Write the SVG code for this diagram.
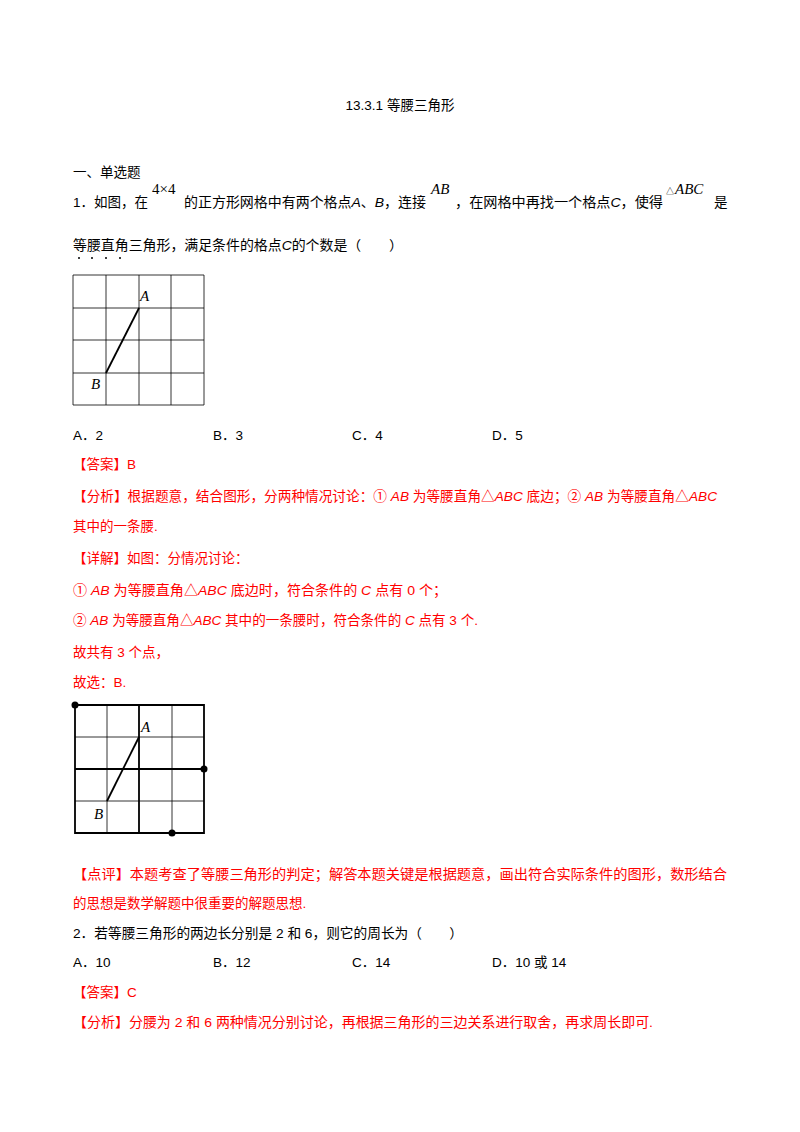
<svg xmlns="http://www.w3.org/2000/svg" width="800" height="1132" viewBox="0 0 800 1132">
<style>
text{font-family:"Liberation Sans","Noto Sans CJK SC",sans-serif;font-size:13.5px;fill:#000}
.r{fill:#ff0000}
.m{font-family:"Liberation Serif",serif;font-style:italic;font-size:15px}
.i{font-style:italic}
.g{stroke:#000;stroke-width:0.8;fill:none}
.k{stroke:#000;stroke-width:1.8;fill:none}
</style>
<rect width="800" height="1132" fill="#fff"/>
<text x="400" y="110" text-anchor="middle">13.3.1 等腰三角形</text>
<text x="73" y="177">一、单选题</text>
<text x="73" y="207">1．如图，在</text>
<text x="152" y="194" style="font-family:'Liberation Serif',serif;font-size:15px">4×4</text>
<text x="184" y="207" textLength="242" lengthAdjust="spacingAndGlyphs">的正方形网格中有两个格点<tspan class="i">A</tspan>、<tspan class="i">B</tspan>，连接</text>
<text x="431" y="194" class="m">AB</text>
<text x="455" y="207" textLength="208" lengthAdjust="spacingAndGlyphs">，在网格中再找一个格点<tspan class="i">C</tspan>，使得</text>
<text x="666" y="194" style="font-size:8px">△</text><text x="675" y="194" class="m">ABC</text>
<text x="714" y="207">是</text>
<text x="73" y="250" textLength="330" lengthAdjust="spacingAndGlyphs">等腰直角三角形，满足条件的格点<tspan class="i">C</tspan>的个数是（　　）</text>
<g fill="#000"><circle cx="79" cy="258" r="1"/><circle cx="92" cy="258" r="1"/><circle cx="106" cy="258" r="1"/><circle cx="120" cy="258" r="1"/></g>
<g id="grid1">
<path class="g" d="M73 275H204M73 308H204M73 340H204M73 373H204M73 405H204M73 275V405M106 275V405M139 275V405M171 275V405M204 275V405"/>
<path class="k" d="M139 308L106 373" stroke-width="1.4"/>
<text x="140" y="301" class="m">A</text>
<text x="91" y="389" class="m">B</text>
</g>
<text x="73" y="440">A．2</text><text x="213" y="440">B．3</text><text x="352" y="440">C．4</text><text x="492" y="440">D．5</text>
<text x="73" y="469" class="r">【答案】B</text>
<text x="73" y="501" class="r" textLength="644" lengthAdjust="spacingAndGlyphs">【分析】根据题意，结合图形，分两种情况讨论：① <tspan class="i">AB</tspan> 为等腰直角△<tspan class="i">ABC</tspan> 底边；② <tspan class="i">AB</tspan> 为等腰直角△<tspan class="i">ABC</tspan></text>
<text x="73" y="531" class="r">其中的一条腰.</text>
<text x="73" y="563" class="r">【详解】如图：分情况讨论：</text>
<text x="73" y="595" class="r" textLength="374" lengthAdjust="spacingAndGlyphs">① <tspan class="i">AB</tspan> 为等腰直角△<tspan class="i">ABC</tspan> 底边时，符合条件的 <tspan class="i">C</tspan> 点有 0 个；</text>
<text x="73" y="625" class="r" textLength="405" lengthAdjust="spacingAndGlyphs">② <tspan class="i">AB</tspan> 为等腰直角△<tspan class="i">ABC</tspan> 其中的一条腰时，符合条件的 <tspan class="i">C</tspan> 点有 3 个.</text>
<text x="73" y="657" class="r">故共有 3 个点，</text>
<text x="73" y="687" class="r">故选：B.</text>
<g id="grid2">
<path class="g" d="M75 737H204M75 801H204M107 705V833M172 705V833"/>
<path class="k" d="M75 705H204V833H75ZM75 769H204M139 705V833" stroke-width="1.4"/>
<path class="k" d="M139 737L107 801" stroke-width="1.2"/>
<circle cx="75" cy="705" r="3.5"/><circle cx="204" cy="769" r="3.5"/><circle cx="172" cy="833" r="3.5"/>
<text x="141" y="732" class="m">A</text>
<text x="94" y="819" class="m">B</text>
</g>
<text x="73" y="879" class="r" textLength="654" lengthAdjust="spacingAndGlyphs">【点评】本题考查了等腰三角形的判定；解答本题关键是根据题意，画出符合实际条件的图形，数形结合</text>
<text x="73" y="908" class="r">的思想是数学解题中很重要的解题思想.</text>
<text x="73" y="938" textLength="390" lengthAdjust="spacingAndGlyphs">2．若等腰三角形的两边长分别是 2 和 6，则它的周长为（　　）</text>
<text x="73" y="967">A．10</text><text x="213" y="967">B．12</text><text x="352" y="967">C．14</text><text x="492" y="967">D．10 或 14</text>
<text x="73" y="997" class="r">【答案】C</text>
<text x="73" y="1027" class="r" textLength="580" lengthAdjust="spacingAndGlyphs">【分析】分腰为 2 和 6 两种情况分别讨论，再根据三角形的三边关系进行取舍，再求周长即可.</text>
</svg>
